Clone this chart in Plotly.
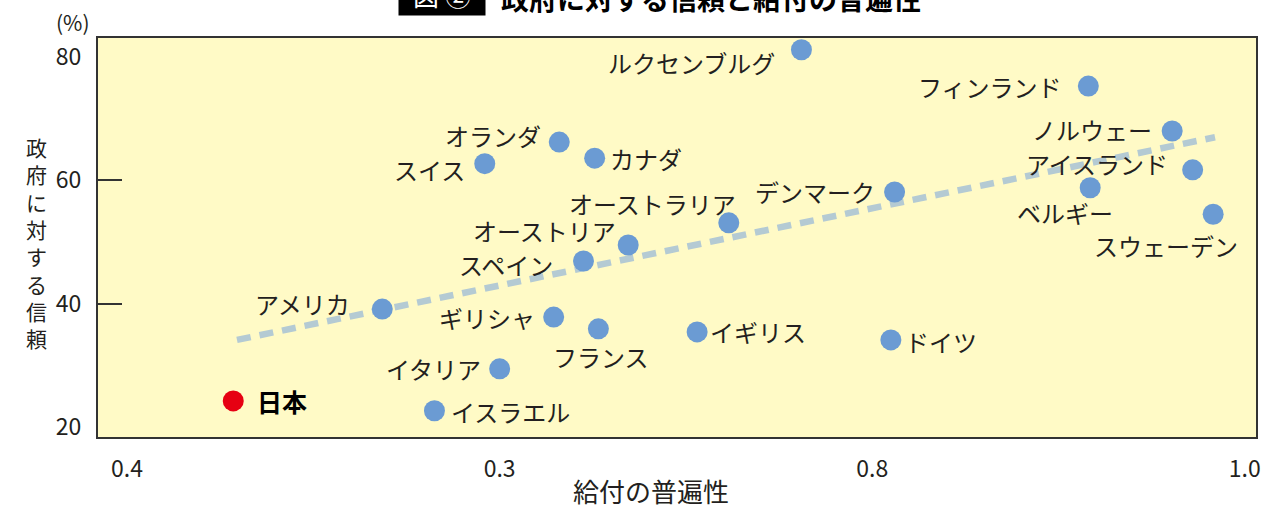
import plotly.graph_objects as go

# ---- data ----
countries = ["ルクセンブルグ", "フィンランド", "ノルウェー", "アイスランド", "ベルギー",
             "スウェーデン", "デンマーク", "オーストラリア", "オランダ", "カナダ",
             "スイス", "オーストリア", "スペイン", "アメリカ", "ギリシャ",
             "フランス", "イギリス", "ドイツ", "イタリア", "イスラエル"]
universality = [0.762, 0.916, 0.961, 0.972, 0.917,
                0.983, 0.812, 0.723, 0.632, 0.651,
                0.592, 0.669, 0.645, 0.537, 0.629,
                0.653, 0.706, 0.810, 0.600, 0.565]
trust = [81.2, 75.3, 68.0, 61.7, 58.8,
         54.5, 58.1, 53.1, 66.2, 63.6,
         62.7, 49.5, 46.9, 39.1, 37.8,
         35.9, 35.4, 34.1, 29.4, 22.6]
japan_name = "日本"
japan_x = [0.457]
japan_y = [24.2]
trend_x = [0.459, 0.984]
trend_y = [34.1, 67.0]
x_tickvals = [0.4, 0.6, 0.8, 1.0]
x_ticktext = ["0.4", "0.3", "0.8", "1.0"]
y_tickvals = [80, 60, 40, 20]
y_ticktext = ["80", "60", "40", "20"]

# ---- label placement (style, not data) ----
label_pos = {
    "ルクセンブルグ": ("right", -24, -13),
    "フィンランド": ("right", -24, 0),
    "ノルウェー": ("right", -18, 2),
    "アイスランド": ("right", -23, 6),
    "ベルギー": ("right", 25, -25),
    "スウェーデン": ("right", 27, -31),
    "デンマーク": ("right", -18, 1),
    "オーストラリア": ("right", 9, 19),
    "オランダ": ("right", -16, 7),
    "カナダ": ("left", 13, 0),
    "スイス": ("right", -18, -6),
    "オーストリア": ("right", -10, 15),
    "スペイン": ("right", -28, -3),
    "アメリカ": ("right", -30, 6),
    "ギリシャ": ("right", -17, 0),
    "フランス": ("center", 3, -28),
    "イギリス": ("left", 11, 0),
    "ドイツ": ("left", 12, -2),
    "イタリア": ("right", -17, 0),
    "イスラエル": ("left", 15, -1),
}

FONT = "Noto Sans CJK JP"
TXT = "#231f20"
DOT = "#6b9bd3"
BG = "#fffac6"

fig = go.Figure()
fig.add_trace(go.Scatter(
    x=trend_x, y=trend_y, mode="lines",
    line=dict(color="#b4cad3", width=6.5, dash="14px,9px"),
    hoverinfo="skip", showlegend=False))
fig.add_trace(go.Scatter(
    x=universality, y=trust, mode="markers", text=countries,
    marker=dict(color=DOT, size=21, line=dict(width=0)),
    showlegend=False, cliponaxis=False))
fig.add_trace(go.Scatter(
    x=japan_x, y=japan_y, mode="markers", text=[japan_name],
    marker=dict(color="#e60012", size=21, line=dict(width=0)),
    showlegend=False, cliponaxis=False))

annotations = []
for name, xv, yv in zip(countries, universality, trust):
    anc, dx, dy = label_pos[name]
    annotations.append(dict(x=xv, y=yv, xref="x", yref="y", text=name,
                            showarrow=False, xanchor=anc, yanchor="middle",
                            xshift=dx, yshift=dy,
                            font=dict(family=FONT, size=24, color=TXT)))
annotations.append(dict(x=japan_x[0], y=japan_y[0], xref="x", yref="y",
                        text="<b>" + japan_name + "</b>", showarrow=False,
                        xanchor="left", yanchor="middle", xshift=22, yshift=0,
                        font=dict(family=FONT, size=25, color="#000000")))

# axis titles and other texts
annotations += [
    dict(x=0.4775, y=-0.1353, xref="paper", yref="paper", text="給付の普遍性",
         showarrow=False, xanchor="center", yanchor="middle",
         font=dict(family=FONT, size=26, color=TXT)),
    dict(x=-0.0527, y=0.4887, xref="paper", yref="paper",
         text="<br>".join(list("政府に対する信頼")),
         showarrow=False, xanchor="center", yanchor="middle",
         font=dict(family=FONT, size=21, color=TXT)),
    dict(x=-0.0216, y=1.040, xref="paper", yref="paper", text="(%)",
         showarrow=False, xanchor="center", yanchor="middle",
         font=dict(family=FONT, size=21, color=TXT)),
    dict(x=0.2591, y=1.110, xref="paper", yref="paper", text="図 ②",
         showarrow=False, xanchor="left", yanchor="middle",
         width=84, height=40, bgcolor="#000000", align="center",
         font=dict(family=FONT, size=26, color="#ffffff")),
    dict(x=0.3463, y=1.100, xref="paper", yref="paper",
         text="<b>政府に対する信頼と給付の普遍性</b>",
         showarrow=False, xanchor="left", yanchor="middle",
         font=dict(family=FONT, size=28, color="#000000")),
]

fig.update_layout(
    width=1287, height=509,
    margin=dict(l=98, r=31, t=38, b=72),
    paper_bgcolor="#ffffff", plot_bgcolor=BG,
    annotations=annotations,
    xaxis=dict(range=[0.3844, 1.006], tickvals=x_tickvals, ticktext=x_ticktext,
               showgrid=False, zeroline=False, ticks="",
               showline=True, mirror=True, linecolor="#333333", linewidth=2,
               ticklabelstandoff=10,
               tickfont=dict(family=FONT, size=23, color=TXT)),
    yaxis=dict(range=[18.34, 83.1], tickvals=y_tickvals, ticktext=y_ticktext,
               showgrid=False, zeroline=False, ticks="",
               showline=True, mirror=True, linecolor="#333333", linewidth=2,
               ticklabelstandoff=10,
               tickfont=dict(family=FONT, size=23, color=TXT),
               minor=dict(tickvals=[60, 40], ticks="inside", ticklen=24,
                          tickwidth=1.5, tickcolor="#333333", showgrid=False)),
    hovermode=False,
)

fig.write_html("out.html")
